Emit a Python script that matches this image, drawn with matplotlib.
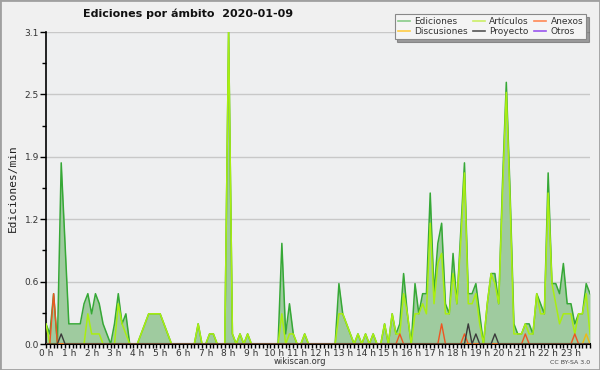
import numpy as np
import matplotlib
matplotlib.use("Agg")
import matplotlib.pyplot as plt
from matplotlib.lines import Line2D
from matplotlib.patches import Rectangle

# Edits per minute, one value every 10 minutes (one row per hour)
ediciones = [
    0.2, 0.1, 0.5, 0, 1.8, 1.0,
    0.2, 0.2, 0.2, 0.2, 0.4, 0.5,
    0.3, 0.5, 0.4, 0.2, 0.1, 0,
    0.2, 0.5, 0.2, 0.3, 0, 0,
    0, 0.1, 0.2, 0.3, 0.3, 0.3,
    0.3, 0.2, 0.1, 0, 0, 0,
    0, 0, 0, 0, 0.2, 0,
    0, 0.1, 0.1, 0, 0, 0,
    3.1, 0.1, 0, 0.1, 0, 0.1,
    0, 0, 0, 0, 0, 0,
    0, 0, 1.0, 0.1, 0.4, 0.1,
    0, 0, 0.1, 0, 0, 0,
    0, 0, 0, 0, 0, 0.6,
    0.3, 0.2, 0.1, 0, 0.1, 0,
    0.1, 0, 0.1, 0, 0, 0.2,
    0, 0.3, 0.1, 0.2, 0.7, 0.3,
    0, 0.6, 0.3, 0.5, 0.5, 1.5,
    0.5, 1.0, 1.2, 0.4, 0.3, 0.9,
    0.4, 1.1, 1.8, 0.5, 0.5, 0.6,
    0.3, 0, 0.4, 0.7, 0.7, 0.4,
    1.6, 2.6, 1.5, 0.2, 0.1, 0.1,
    0.2, 0.2, 0.1, 0.5, 0.4, 0.3,
    1.7, 0.6, 0.6, 0.5, 0.8, 0.4,
    0.4, 0.2, 0.3, 0.3, 0.6, 0.5,
]

articulos = [
    0.2, 0, 0, 0, 0, 0,
    0, 0, 0, 0, 0, 0.3,
    0.1, 0.1, 0.1, 0, 0, 0,
    0, 0.4, 0.2, 0.1, 0, 0,
    0, 0.1, 0.2, 0.3, 0.3, 0.3,
    0.3, 0.2, 0.1, 0, 0, 0,
    0, 0, 0, 0, 0.2, 0,
    0, 0.1, 0.1, 0, 0, 0,
    3.1, 0.1, 0, 0.1, 0, 0.1,
    0, 0, 0, 0, 0, 0,
    0, 0, 0.3, 0, 0.1, 0.1,
    0, 0, 0.1, 0, 0, 0,
    0, 0, 0, 0, 0, 0.3,
    0.3, 0.2, 0.1, 0, 0.1, 0,
    0.1, 0, 0.1, 0, 0, 0.2,
    0, 0.3, 0.1, 0.1, 0.5, 0.3,
    0, 0.3, 0.3, 0.4, 0.3, 1.2,
    0.4, 0.8, 0.9, 0.3, 0.3, 0.7,
    0.4, 1.0, 1.7, 0.4, 0.4, 0.5,
    0.2, 0, 0.4, 0.7, 0.6, 0.4,
    1.5, 2.5, 1.4, 0.1, 0.1, 0.1,
    0.2, 0.1, 0.1, 0.5, 0.3, 0.3,
    1.5, 0.6, 0.4, 0.2, 0.3, 0.3,
    0.3, 0.1, 0.3, 0.3, 0.5, 0.1,
]

# sparse series: minute of the day -> edits/min (zero elsewhere)
anexos_min = [20, 930, 1040, 1100, 1260, 1390]
anexos_val = [0.5, 0.1, 0.2, 0.1, 0.1, 0.1]
proyecto_min = [40, 1110, 1130, 1180]
proyecto_val = [0.1, 0.2, 0.1, 0.1]
discusiones_min = [1420]
discusiones_val = [0.1]
otros_min = []
otros_val = []

hour_labels = ["%d h" % h for h in range(24)]

minutes = np.arange(len(ediciones)) * 10
hours = minutes / 60.0


def sparse(mins, vals):
    out = np.zeros(len(minutes))
    for m, v in zip(mins, vals):
        out[m // 10] = v
    return out


anexos = sparse(anexos_min, anexos_val)
proyecto = sparse(proyecto_min, proyecto_val)
discusiones = sparse(discusiones_min, discusiones_val)
otros = sparse(otros_min, otros_val)

fig = plt.figure(figsize=(6, 3.7), dpi=100, facecolor="#f0f0f0")
fig.patches.append(Rectangle((0, 0), 1, 1, transform=fig.transFigure,
                             fill=False, edgecolor="#a0a0a0", linewidth=2))
ax = fig.add_axes([46 / 600, 26 / 370, 544 / 600, 312 / 370])
ax.set_facecolor("#eeeff0")

ax.fill_between(hours, ediciones, color="#9fcb9f", linewidth=0, zorder=2)
ax.plot(hours, ediciones, color="#36a836", linewidth=1.1, zorder=3)
ax.plot(hours, articulos, color="#aaee11", linewidth=1.1, zorder=4)
ax.plot(hours, otros, color="#9944dd", linewidth=1, zorder=5)
ax.plot(hours, discusiones, color="#eebb11", linewidth=1, zorder=5)
ax.plot(hours, anexos, color="#ee5522", linewidth=1, zorder=5)
ax.plot(hours, proyecto, color="#3a3a3a", linewidth=1, zorder=5)

ymax = 3.1
ax.set_ylim(0, ymax)
ax.set_xlim(0, hours[-1])
yt = [ymax * k / 5 for k in range(6)]
ax.set_yticks(yt)
ax.set_yticklabels(["%.1f" % v for v in yt])
ax.set_yticks([ymax * (k + 0.5) / 5 for k in range(5)], minor=True)
ax.set_xticks(range(24))
ax.set_xticklabels(hour_labels)
ax.set_xticks(hours, minor=True)
ax.grid(axis="y", color="#c8c8c8", linewidth=1, zorder=1)
ax.set_axisbelow(True)

for s in ["top", "right"]:
    ax.spines[s].set_visible(False)
ax.spines["left"].set_linewidth(1.2)
ax.spines["bottom"].set_linewidth(1.5)
ax.tick_params(axis="both", which="both", direction="out", length=3,
               width=1, colors="black", labelcolor="#333333", labelsize=6.5, pad=0.5)
ax.tick_params(axis="y", which="major", length=4, pad=1)

ax.set_ylabel("Ediciones/min", family="DejaVu Sans Mono", fontsize=8,
              color="#222222", labelpad=5)

fig.text(188 / 600, 1 - 14 / 370, "Ediciones por ámbito  2020-01-09",
         ha="center", va="center", fontsize=8, fontweight="bold", color="#111111")
fig.text(0.5, 1 - 362 / 370, "wikiscan.org", ha="center", va="center",
         fontsize=6, color="#333333")
fig.text(590 / 600, 1 - 362 / 370, "CC BY-SA 3.0", ha="right", va="center",
         fontsize=4.5, color="#444444")

handles = [
    Line2D([], [], color="#88cc88", lw=1.2, label="Ediciones"),
    Line2D([], [], color="#ffcc44", lw=1.2, label="Discusiones"),
    Line2D([], [], color="#ccee66", lw=1.2, label="Artículos"),
    Line2D([], [], color="#555555", lw=1.2, label="Proyecto"),
    Line2D([], [], color="#ff8855", lw=1.2, label="Anexos"),
    Line2D([], [], color="#9955ee", lw=1.2, label="Otros"),
]
leg = fig.legend(handles=handles, ncol=3, loc="upper right",
                 bbox_to_anchor=(0.985, 0.975), fontsize=6.5, handlelength=1.3,
                 handletextpad=0.5, columnspacing=0.6, labelspacing=0.1,
                 borderpad=0.35, frameon=True, fancybox=False, shadow=True,
                 labelcolor="#333333")
leg.get_frame().set_edgecolor("#888888")
leg.get_frame().set_facecolor("#f4f4f4")
leg.get_frame().set_linewidth(0.8)

fig.savefig("out.png", dpi=100, facecolor=fig.get_facecolor())
